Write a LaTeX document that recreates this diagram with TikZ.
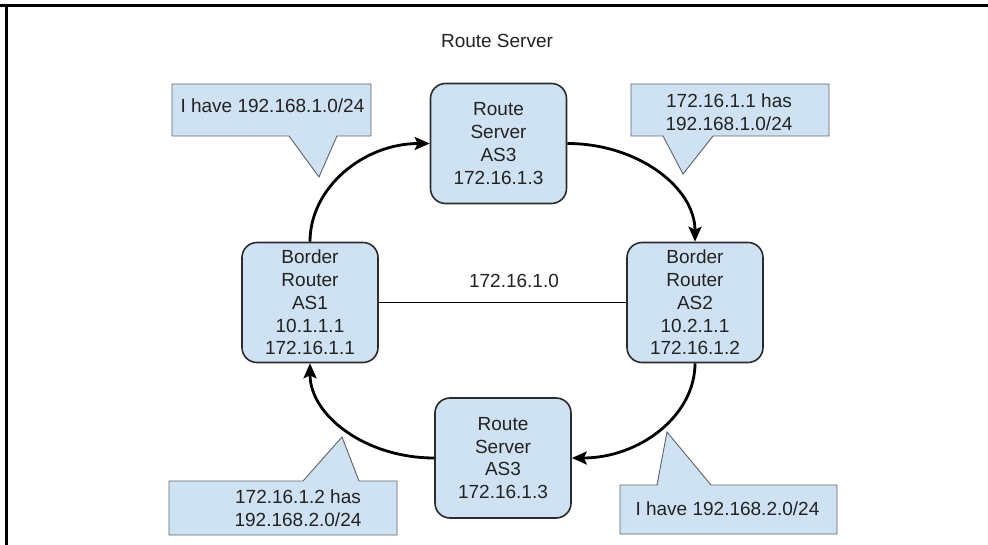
\documentclass[tikz,border=0pt]{standalone}
\usepackage{fontspec}
\setmainfont{Liberation Sans}
\usetikzlibrary{arrows.meta,calc}
\definecolor{boxfill}{HTML}{CFE2F3}
\definecolor{boxline}{HTML}{2B2B2B}
\definecolor{calline}{HTML}{5F6368}
\definecolor{txt}{HTML}{222222}
\begin{document}
\begin{tikzpicture}[x=1pt,y=-1pt,
  every node/.style={font=\fontsize{19}{22.8}\selectfont, text=txt},
  rbox/.style={draw=boxline, line width=1.6pt, fill=boxfill, rounded corners=15pt,
    minimum width=136pt, minimum height=120pt, align=center, inner sep=0pt},
  callout/.style={draw=calline, line width=0.9pt, fill=boxfill},
  flow/.style={line width=2.8pt, -{Stealth[length=15pt,width=13pt,inset=3pt]}},
  link/.style={line width=1.9pt, draw=black},
]
\useasboundingbox (0,0) rectangle (988,545);
% frame
\draw[line width=2.5pt] (0,5.5) -- (988,5.5);
\draw[line width=2.5pt] (6.5,4.25) -- (6.5,545);

% title
\node[anchor=base] (title) at (497,47.5) {Route Server};

% callouts
\draw[callout] (172,84) -- (371,84) -- (371,136) -- (337,136) -- (319,177) -- (289,136) -- (172,136) -- cycle;
\node[anchor=base west] (c1) at (177,113) {I have 192.168.1.0/24};

\draw[callout] (631,84) -- (829,84) -- (829,136) -- (713,136) -- (683,174) -- (663,136) -- (631,136) -- cycle;
\node[align=center] (c2) at (729,112) {172.16.1.1 has\\192.168.1.0/24};

\draw[callout] (169,481) -- (303,481) -- (342,437) -- (359,481) -- (397,481) -- (397,535) -- (169,535) -- cycle;
\node[align=center] (c3) at (298,508.5) {172.16.1.2 has\\192.168.2.0/24};

\draw[callout] (620,485) -- (657,485) -- (667,432) -- (711,485) -- (837,485) -- (837,534) -- (620,534) -- cycle;
\node[anchor=base west] (c4) at (632,515) {I have 192.168.2.0/24};

% main nodes
\node[rbox] (rs1) at (498.5,143.5) {Route\\Server\\AS3\\172.16.1.3};
\node[rbox] (rs2) at (503,458) {Route\\Server\\AS3\\172.16.1.3};
\node[rbox] (br1) at (310,302.5) {Border\\Router\\AS1\\10.1.1.1\\172.16.1.1};
\node[rbox] (br2) at (695,302.5) {Border\\Router\\AS2\\10.2.1.1\\172.16.1.2};

% link between routers
\draw[link] (br1.east) -- (br2.west);
\node[anchor=base] (net) at (514,288) {172.16.1.0};

% curved arrows (quarter ellipses)
\draw[flow] (br1.north) .. controls ($(br1.north)!0.552!(br1.north |- rs1.west)$)
  and ($(rs1.west)!0.552!(br1.north |- rs1.west)$) .. (rs1.west);
\draw[flow] (rs1.east) .. controls ($(rs1.east)!0.552!(br2.north |- rs1.east)$)
  and ($(br2.north)!0.552!(br2.north |- rs1.east)$) .. (br2.north);
\draw[flow] (br2.south) .. controls ($(br2.south)!0.552!(br2.south |- rs2.east)$)
  and ($(rs2.east)!0.552!(br2.south |- rs2.east)$) .. (rs2.east);
\draw[flow] (rs2.west) .. controls ($(rs2.west)!0.552!(br1.south |- rs2.west)$)
  and ($(br1.south)!0.552!(br1.south |- rs2.west)$) .. (br1.south);
\end{tikzpicture}
\end{document}
